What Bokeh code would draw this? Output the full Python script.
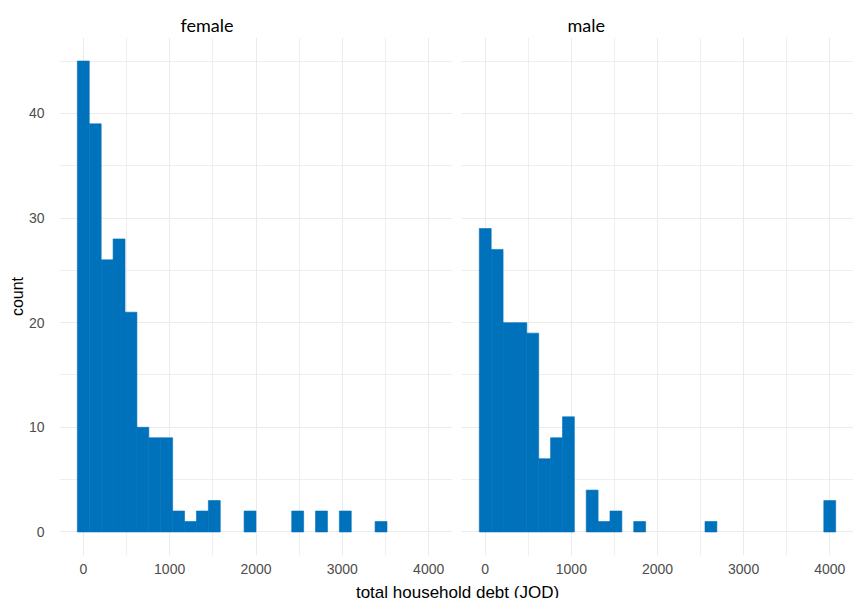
from bokeh.plotting import figure
from bokeh.models import Range1d, FixedTicker, ColumnDataSource, Label
from bokeh.layouts import column, row
from bokeh.embed import file_html
from bokeh.resources import INLINE

# Histogram of total household debt (JOD): 30 equal bins, centred from 0 to 4000
debt_min = 0
debt_max = 4000
n_bins = 30

panels = ["female", "male"]
female_counts = [45, 39, 26, 28, 21, 10, 9, 9, 2, 1, 2, 3, 0, 0, 2,
                 0, 0, 0, 2, 0, 2, 0, 2, 0, 0, 1, 0, 0, 0, 0]
male_counts = [29, 27, 20, 20, 19, 7, 9, 11, 0, 4, 1, 2, 0, 1, 0,
               0, 0, 0, 0, 1, 0, 0, 0, 0, 0, 0, 0, 0, 0, 3]

x_ticks = [0, 1000, 2000, 3000, 4000]
x_minor = [500, 1500, 2500, 3500]
y_ticks = [0, 10, 20, 30, 40]
y_minor = [5, 15, 25, 35, 45]

x_title = "total household debt (JOD)"
y_title = "count"

BAR = "#0071BB"
GRID = "#ebebeb"
TICK_TXT = "#4d4d4d"

bin_width = (debt_max - debt_min) / (n_bins - 1)
centers = [debt_min + k * bin_width for k in range(n_bins)]

lo = debt_min - bin_width / 2
hi = debt_max + bin_width / 2
pad = 0.05 * (hi - lo)
ymax = max(max(female_counts), max(male_counts))


def panel(name, counts, first):
    src = ColumnDataSource(dict(
        left=[c - bin_width / 2 for c, n in zip(centers, counts) if n > 0],
        right=[c + bin_width / 2 for c, n in zip(centers, counts) if n > 0],
        top=[n for n in counts if n > 0],
    ))
    p = figure(width=452 if first else 401, height=576,
               x_range=Range1d(lo - pad, hi + pad),
               y_range=Range1d(-0.05 * ymax, ymax * 1.05),
               toolbar_location=None, output_backend="svg",
               min_border_top=37, min_border_bottom=19,
               min_border_left=59 if first else 9, min_border_right=0,
               outline_line_color=None,
               background_fill_color="white", border_fill_color="white")

    # bars: outline in the fill colour so adjacent bins join without seams
    p.quad(left="left", right="right", bottom=0, top="top", source=src,
           fill_color=BAR, line_color=BAR, line_width=0.6)

    p.xaxis.ticker = FixedTicker(ticks=x_ticks, minor_ticks=x_minor)
    p.yaxis.ticker = FixedTicker(ticks=y_ticks, minor_ticks=y_minor)

    for g in (p.xgrid, p.ygrid):
        g.grid_line_color = GRID
        g.grid_line_width = 1
        g.minor_grid_line_color = GRID
        g.minor_grid_line_width = 0.8

    for ax in p.axis:
        ax.axis_line_color = None
        ax.major_tick_line_color = None
        ax.minor_tick_line_color = None
        ax.major_label_text_font = "Liberation Sans"
        ax.major_label_text_font_size = "14px"
        ax.major_label_text_color = TICK_TXT
    p.xaxis.major_label_standoff = 2
    p.yaxis.major_label_standoff = 9

    if first:
        p.yaxis.axis_label = y_title
        p.yaxis.axis_label_text_font = "Liberation Sans"
        p.yaxis.axis_label_text_font_size = "16px"
        p.yaxis.axis_label_text_font_style = "normal"
        p.yaxis.axis_label_text_color = "black"
        p.yaxis.axis_label_standoff = 0
    else:
        p.yaxis.visible = False

    p.title.text = name
    p.title.align = "left"
    p.title.offset = 121 if first else 106
    p.title.text_font = "Lato"
    p.title.text_font_size = "18px"
    p.title.text_font_style = "normal"
    p.title.text_color = "black"
    p.title.standoff = 3
    return p


f_female = panel(panels[0], female_counts, True)
f_male = panel(panels[1], male_counts, False)

# shared x-axis title, centred under both panels
foot = figure(width=853, height=22, x_range=Range1d(0, 853), y_range=Range1d(0, 22),
              title=None, min_border=0, x_axis_type=None, y_axis_type=None,
              outline_line_color=None, toolbar_location=None, output_backend="svg",
              background_fill_color="white", border_fill_color="white")
foot.add_layout(Label(x=457, y=6, text=x_title, text_align="center",
                      text_baseline="alphabetic", text_font="Liberation Sans",
                      text_font_size="17px", text_color="black"))

layout = column(row(f_female, f_male), foot)

open("out.html", "w").write(file_html(layout, INLINE))
